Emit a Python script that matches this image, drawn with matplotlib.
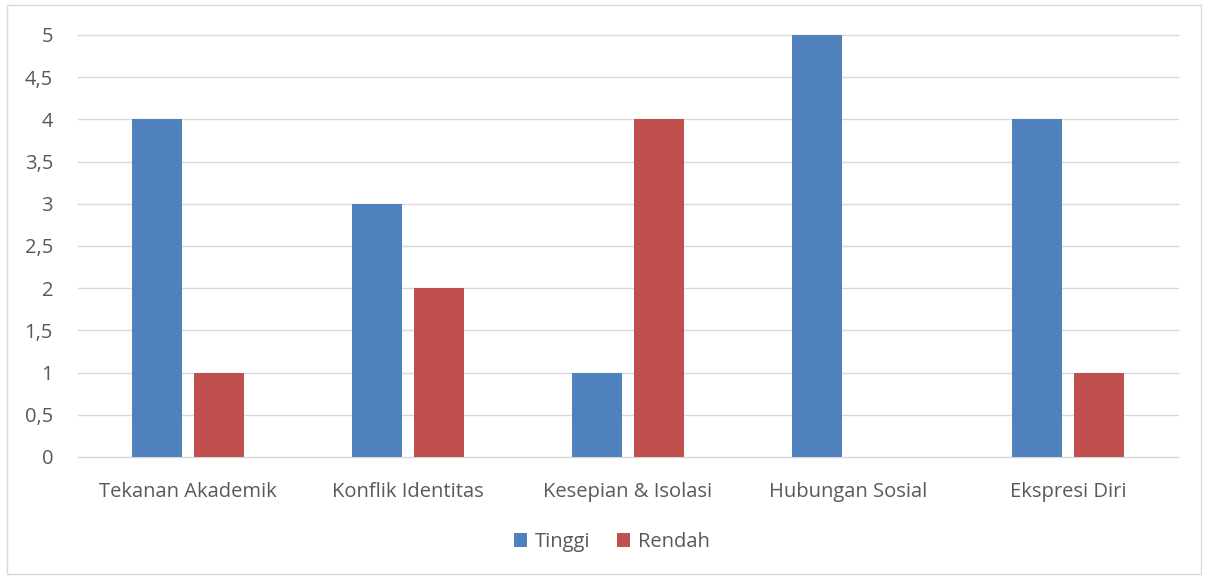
import numpy as np
import matplotlib
matplotlib.use("Agg")
import matplotlib.pyplot as plt
from matplotlib.patches import Rectangle
from matplotlib.ticker import FuncFormatter

kategori = ["Tekanan Akademik", "Konflik Identitas", "Kesepian & Isolasi",
            "Hubungan Sosial", "Ekspresi Diri"]
tinggi = [4, 3, 1, 5, 4]
rendah = [1, 2, 4, 0, 1]

plt.rcParams['font.family'] = ['Open Sans', 'DejaVu Sans']
teks = '#595959'

fig = plt.figure(figsize=(12.05, 5.76), dpi=100)
fig.patches.append(Rectangle((7 / 1205, 2 / 576), 1194 / 1205, 569 / 576,
                             transform=fig.transFigure, fill=False,
                             edgecolor='#D9D9D9', linewidth=1))
ax = fig.add_axes([78 / 1205, 119 / 576, 1100 / 1205, 422 / 576])

x = np.arange(len(kategori))
lebar = 0.223
b1 = ax.bar(x - 0.141, tinggi, lebar, color='#4F81BD', label='Tinggi', zorder=3)
b2 = ax.bar(x + 0.141, rendah, lebar, color='#C0504D', label='Rendah', zorder=3)

ax.set_xlim(-0.5, len(kategori) - 0.5)
ax.set_ylim(0, 5)
ax.set_yticks(np.arange(0, 5.01, 0.5))
ax.yaxis.set_major_formatter(FuncFormatter(lambda v, p: ('%g' % v).replace('.', ',')))
ax.set_xticks(x)
ax.set_xticklabels(kategori)
ax.grid(axis='y', color='#D9D9D9', linewidth=1, zorder=0)
for s in ax.spines.values():
    s.set_visible(False)
ax.spines['bottom'].set_visible(True)
ax.spines['bottom'].set_color('#D9D9D9')
ax.tick_params(axis='both', length=0, colors=teks)
ax.tick_params(axis='x', pad=18, labelsize=14.5)
ax.tick_params(axis='y', pad=18, labelsize=14.5)
for g in ax.get_ygridlines():
    g.set_clip_on(False)

leg = fig.legend(handles=[b1, b2], loc='center', bbox_to_anchor=(612 / 1205, 1 - 542 / 576),
                 ncol=2, frameon=False, fontsize=14.5, handlelength=0.65, handleheight=0.65,
                 handletextpad=0.4, columnspacing=1.3)
for t in leg.get_texts():
    t.set_color(teks)

fig.savefig('out.png', dpi=100)
